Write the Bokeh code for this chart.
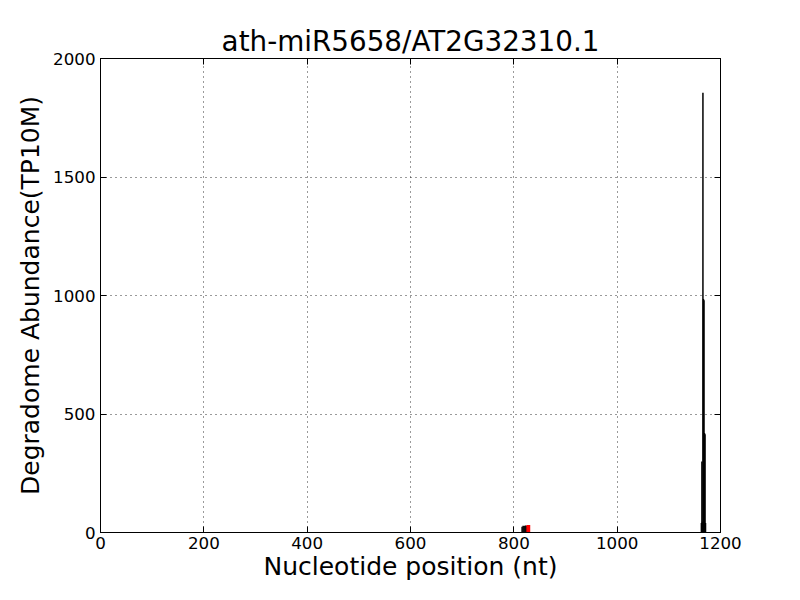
from bokeh.plotting import figure
from bokeh.models import FixedTicker, LinearAxis, Range1d
from bokeh.embed import file_html
from bokeh.resources import INLINE

# Degradome tag positions (nt) and abundances (TP10M)
black_pos = [816, 818, 820, 822, 824, 1163, 1164, 1165, 1166, 1167, 1168, 1169, 1170, 1171]
black_val = [24, 28, 27, 30, 28, 40, 300, 45, 1855, 985, 980, 420, 415, 40]
# cleavage-site window (red)
red_pos = [826, 828, 830]
red_val = [32, 32, 32]

x_ticks = [0, 200, 400, 600, 800, 1000, 1200]
y_ticks = [0, 500, 1000, 1500, 2000]

FONT = "DejaVu Sans"

p = figure(width=784, height=584, output_backend="svg", toolbar_location=None,
           x_range=Range1d(0, 1200), y_range=Range1d(0, 2000),
           min_border_left=100, min_border_right=64, min_border_top=58, min_border_bottom=52,
           title="ath-miR5658/AT2G32310.1")

p.title.align = "center"
p.title.text_font = FONT
p.title.text_font_size = "27.8px"
p.title.text_font_style = "normal"
p.title.text_color = "black"
p.title.standoff = 2
p.title.offset = 0

p.segment(x0=black_pos, y0=[0] * len(black_pos), x1=black_pos, y1=black_val,
          line_color="black", line_width=1.5)
p.segment(x0=red_pos, y0=[0] * len(red_pos), x1=red_pos, y1=red_val,
          line_color="red", line_width=1.8)

p.outline_line_color = "black"
p.outline_line_width = 1
p.background_fill_color = "white"
p.border_fill_color = "white"

for g in (p.xgrid[0], p.ygrid[0]):
    g.grid_line_color = "black"
    g.grid_line_dash = "1 4"
    g.grid_line_width = 0.8
    g.grid_line_alpha = 1.0
p.xgrid[0].ticker = FixedTicker(ticks=x_ticks)
p.ygrid[0].ticker = FixedTicker(ticks=y_ticks)

xa = p.xaxis[0]
xa.ticker = FixedTicker(ticks=x_ticks)
xa.axis_label = "Nucleotide position (nt)"
ya = p.yaxis[0]
ya.ticker = FixedTicker(ticks=y_ticks)
ya.axis_label = "Degradome Abundance(TP10M)"

for ax in (xa, ya):
    ax.axis_label_text_font = FONT
    ax.axis_label_text_font_size = "25px"
    ax.axis_label_text_font_style = "normal"
    ax.axis_label_text_color = "black"
    ax.major_label_text_font = FONT
    ax.major_label_text_font_size = "16.7px"
    ax.major_label_text_color = "black"
    ax.major_tick_in = 6
    ax.major_tick_out = 0
    ax.minor_tick_line_color = None
    ax.axis_line_color = "black"
    ax.major_tick_line_color = "black"
    ax.major_label_standoff = 5

xa.major_label_standoff = 4
xa.axis_label_standoff = 0
ya.axis_label_standoff = 5

# mirrored inward ticks on top and right (no labels)
top = LinearAxis(ticker=FixedTicker(ticks=x_ticks), major_label_overrides={t: "" for t in x_ticks},
                 major_label_text_font_size="1px", major_label_text_color=None,
                 major_tick_in=6, major_tick_out=0, minor_tick_line_color=None,
                 major_label_standoff=0, axis_line_color="black")
right = LinearAxis(ticker=FixedTicker(ticks=y_ticks), major_label_overrides={t: "" for t in y_ticks},
                   major_label_text_font_size="1px", major_label_text_color=None,
                   major_tick_in=6, major_tick_out=0, minor_tick_line_color=None,
                   major_label_standoff=0, axis_line_color="black")
p.add_layout(top, "above")
p.add_layout(right, "right")

open("out.html", "w").write(file_html(p, INLINE))
